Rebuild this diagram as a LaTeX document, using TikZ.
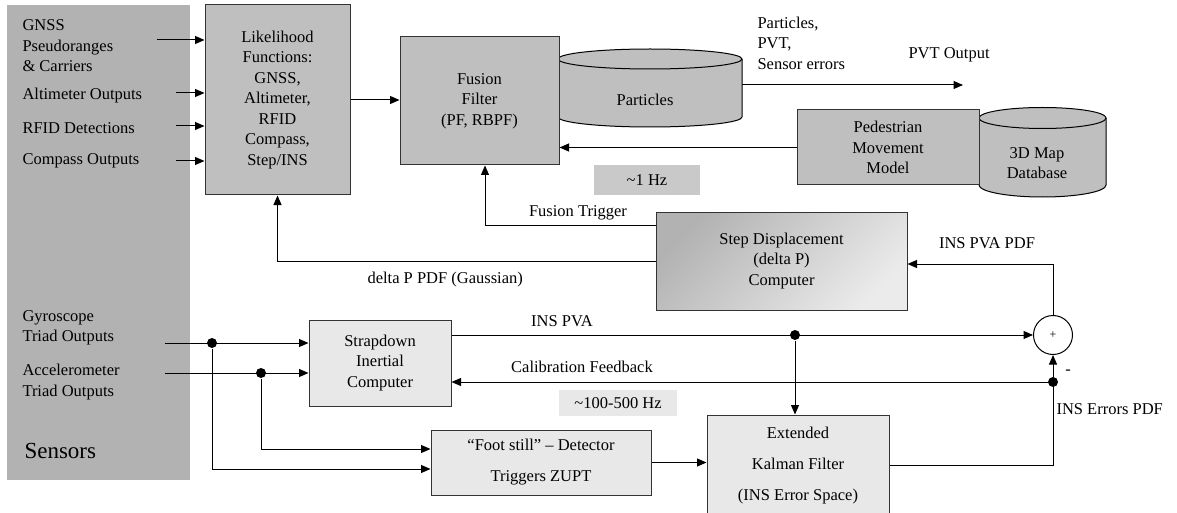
\documentclass[tikz,border=0pt]{standalone}
\usepackage{fontspec}
\setmainfont{Liberation Serif}
\usepackage{tikz}
\usetikzlibrary{arrows.meta}

\begin{document}
\begin{tikzpicture}[x=1pt, y=-1pt, line width=1pt,
  txt/.style={inner sep=0pt, font=\fontsize{16.5}{20.5}\selectfont},
  darkbox/.style={txt, draw=black!80, fill=black!25, align=center},
  lightbox/.style={txt, draw=black!80, fill=black!9, align=center},
  hzbox/.style={txt, fill=#1},
  conn/.style={-{Triangle[length=9.5pt,width=8pt]}},
  jdot/.style={circle, fill, inner sep=0pt, minimum size=10pt}]

  \useasboundingbox (0,0) rectangle (1177,513);

  \draw (98.5,242.5) node[fill=black!30, minimum width=183pt, minimum height=475pt] (sensors) {};

  \draw (22,46) node[txt, anchor=west, align=left] (gnsslbl) {GNSS\\Pseudoranges\\\& Carriers};
  \draw (22,96) node[txt, anchor=west] (altlbl) {Altimeter Outputs};
  \draw (22,128) node[txt, anchor=west] (rfidlbl) {RFID Detections};
  \draw (22,161) node[txt, anchor=west] (complbl) {Compass Outputs};
  \draw (22,328) node[txt, anchor=west, align=left] (gyrolbl) {Gyroscope\\Triad Outputs};
  \draw (22,382) node[txt, anchor=west, align=left] (acclbl) {Accelerometer\\Triad Outputs};
  \draw (24,451) node[txt, anchor=west, font=\fontsize{23}{28}\selectfont] (senslbl) {Sensors};

  \draw[fill=black!25] (558,59) -- (558,117) arc[start angle=180, end angle=0, x radius=92, y radius=10] -- (742,59);
  \draw[fill=black!25] (650,59) ellipse[x radius=92, y radius=10];
  \draw (645,100) node[txt] (parts) {Particles};

  \draw[fill=black!25] (979,118) -- (979,185) arc[start angle=180, end angle=0, x radius=63.5, y radius=12] -- (1106,118);
  \draw[fill=black!25] (1042.5,118) ellipse[x radius=63.5, y radius=10.5];
  \draw (1037,163) node[txt, align=center] (mapdb) {3D Map\\Database};

  \draw (277.5,100) node[darkbox, minimum width=145pt, minimum height=190pt] (lik) {Likelihood\\Functions:\\GNSS,\\Altimeter,\\RFID\\Compass,\\Step/INS};
  \draw (479.5,101) node[darkbox, minimum width=159pt, minimum height=128pt] (fusion) {Fusion\\Filter\\(PF, RBPF)};
  \draw (888,147.5) node[darkbox, minimum width=182pt, minimum height=75pt] (ped) {Pedestrian\\Movement\\Model};
  \draw (781.5,261) node[txt, draw=black!80, top color=black!30, bottom color=black!8, shading angle=45, align=center, minimum width=251pt, minimum height=98pt] (step) {Step Displacement\\(delta P)\\Computer};
  \draw (380,363) node[lightbox, minimum width=142pt, minimum height=86pt] (sdi) {Strapdown\\Inertial\\Computer};
  \draw (541,462.5) node[lightbox, minimum width=220pt, minimum height=65pt] (foot) {“Foot still” – Detector\\[10.5pt]Triggers ZUPT};
  \draw (798,465.5) node[lightbox, minimum width=182pt, minimum height=101pt] (ekf) {Extended\\[10.5pt]Kalman Filter\\[10.5pt](INS Error Space)};
  \draw (1053,335) node[circle, draw, fill=white, minimum size=39pt, inner sep=0pt, font=\fontsize{12}{12}\selectfont] (sum) {+};

  \draw (647,180) node[hzbox=black!21, minimum width=106pt, minimum height=30pt] (hzlow) {\textasciitilde1 Hz};
  \draw (618,403) node[hzbox=black!9, minimum width=118pt, minimum height=26pt] (hzhigh) {\textasciitilde100-500 Hz};

  \coordinate (gnssin) at (157,40);
  \coordinate (altin) at (176,93);
  \coordinate (rfidin) at (176,126);
  \coordinate (compin) at (176,161);
  \coordinate (gyin) at (165,343);
  \coordinate (acin) at (165,373);
  \coordinate (partsout) at (742,85);
  \coordinate (pvtend) at (963,85);
  \draw (212,343) node[jdot] (gydot) {};
  \draw (261,373) node[jdot] (acdot) {};
  \draw (795,335) node[jdot] (pvadot) {};
  \draw (1053,382) node[jdot] (errdot) {};

  \draw[conn] (gnssin) -- (gnssin -| lik.west);
  \draw[conn] (altin) -- (altin -| lik.west);
  \draw[conn] (rfidin) -- (rfidin -| lik.west);
  \draw[conn] (compin) -- (compin -| lik.west);
  \draw[conn] (lik.east) -- (lik.east -| fusion.west);
  \draw[conn] (partsout) -- (pvtend);
  \draw[conn] (ped.west) -- (ped.west -| fusion.east);
  \draw[conn] ([yshift=36pt]step.west) -| ([xshift=5.5pt]fusion.south);
  \draw[conn] (step.west) -| (lik.south);
  \draw[conn] (sum.north) |- ([yshift=-3pt]step.east);
  \draw[conn] (sdi.east |- sum.west) -- (sum.west);
  \draw[conn] (pvadot) -- (pvadot |- ekf.north);
  \draw[conn] (gyin) -- (gyin -| sdi.west);
  \draw[conn] (acin) -- (acin -| sdi.west);
  \draw[conn] (gydot) |- ([yshift=-6.5pt]foot.west);
  \draw[conn] (acdot) |- ([yshift=13.5pt]foot.west);
  \draw[conn] (foot.east) -- (foot.east -| ekf.west);
  \draw[conn] (ekf.east) -| (sum.south);
  \draw[conn] (errdot) -- (errdot -| sdi.east);

  \draw (757,43) node[txt, anchor=west, align=left] (outlbl) {Particles,\\PVT,\\Sensor errors};
  \draw (908,55) node[txt, anchor=west] (pvtlbl) {PVT Output};
  \draw (578,213) node[txt] (triglbl) {Fusion Trigger};
  \draw (367,280) node[txt, anchor=west] (dplbl) {delta P PDF (Gaussian)};
  \draw (987,243) node[txt] (pdflbl) {INS PVA PDF};
  \draw (562,321) node[txt] (pvalbl) {INS PVA};
  \draw (582,367) node[txt] (callbl) {Calibration Feedback};
  \draw (1068,372) node[txt] (minuslbl) {-};
  \draw (1056,409) node[txt, anchor=west] (errlbl) {INS Errors PDF};

\end{tikzpicture}
\end{document}
